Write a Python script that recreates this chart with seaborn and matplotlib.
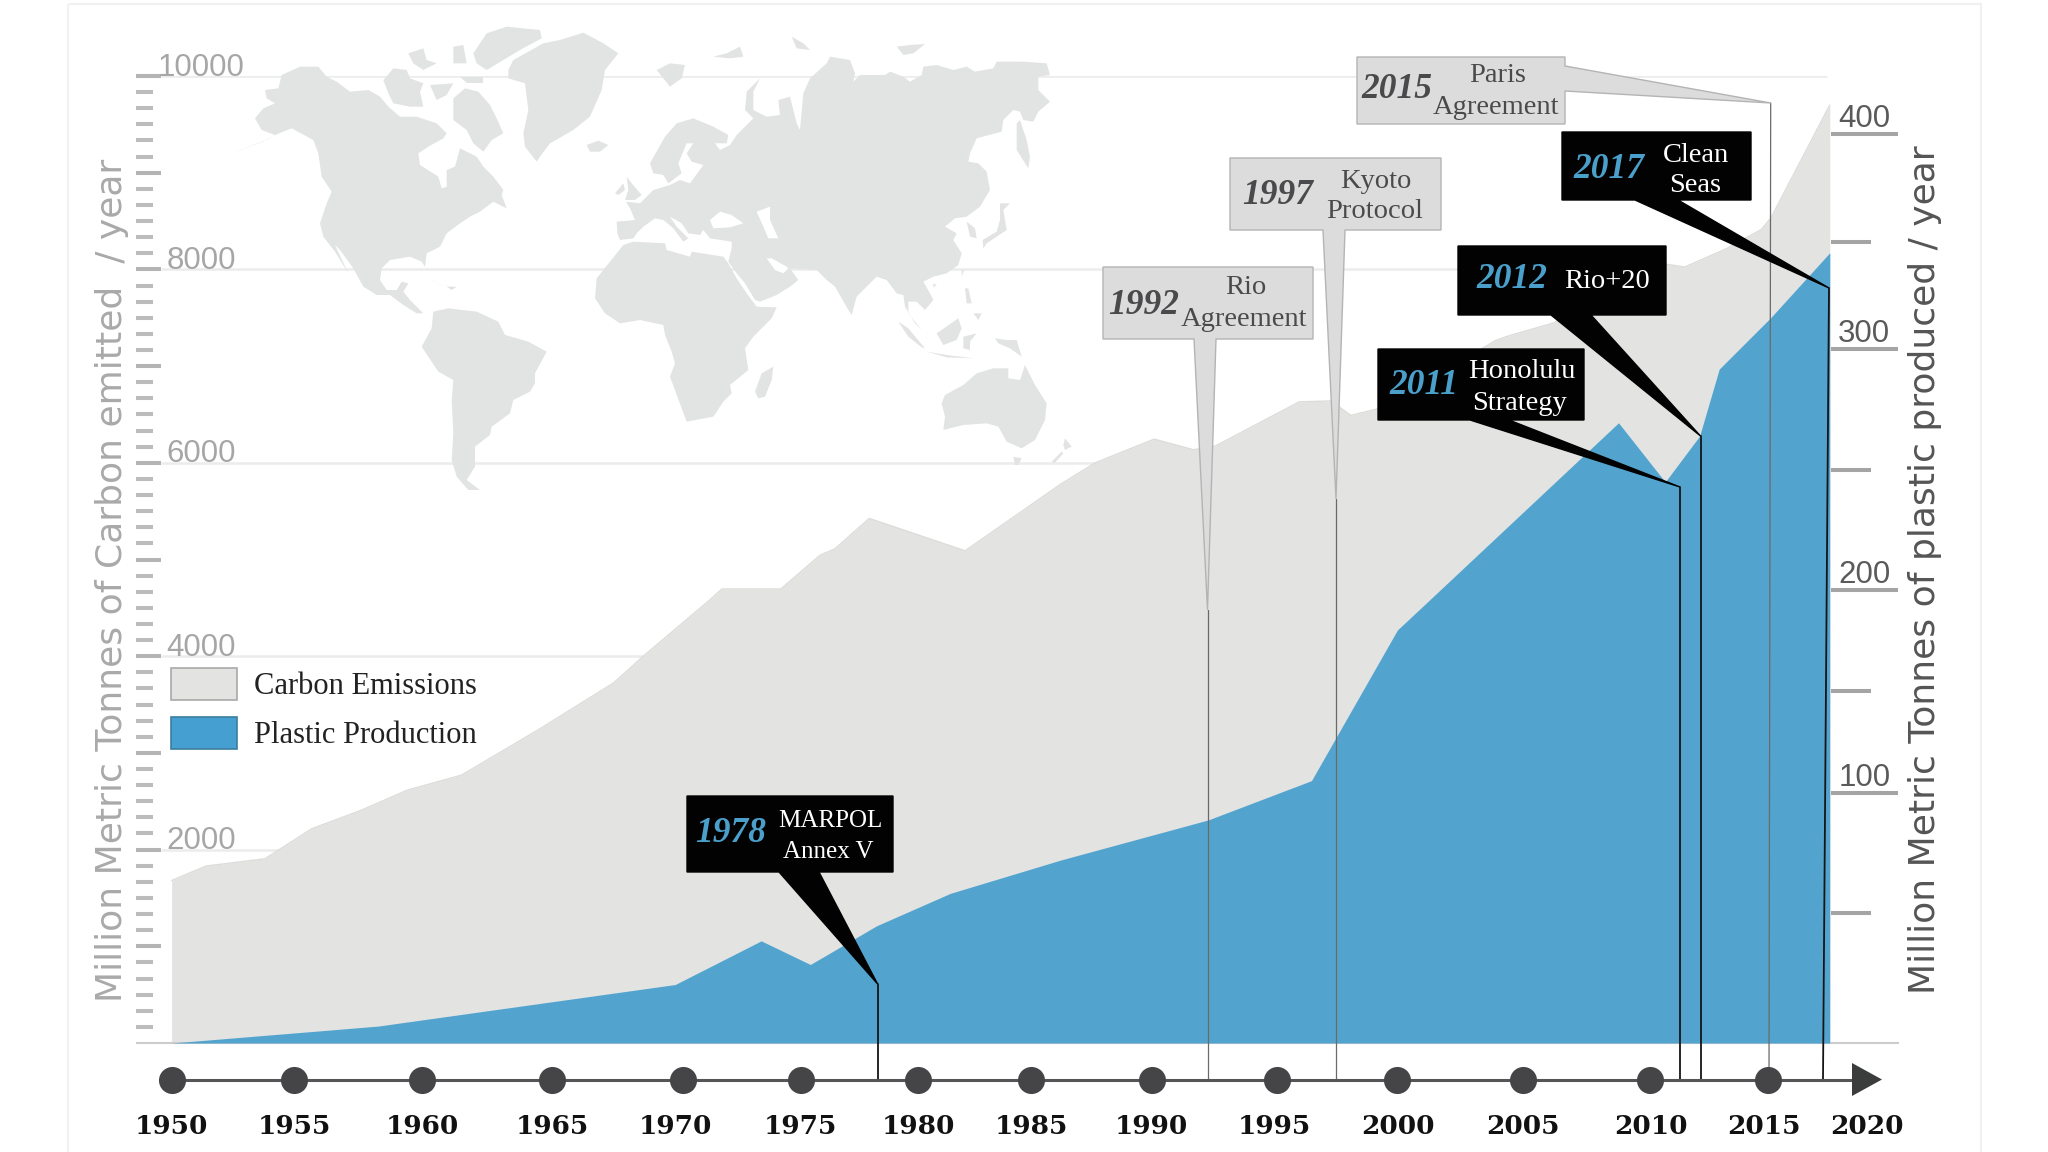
import matplotlib
matplotlib.use("Agg")
import matplotlib.pyplot as plt
from matplotlib.patches import Patch, Polygon, Rectangle
from matplotlib.ticker import NullFormatter
from matplotlib.transforms import Affine2D
import numpy as np
import seaborn as sns

W, H = 2048, 1152

# carbon emissions
carbon_years = [1950, 1951.4, 1953.8, 1955.7, 1957.7, 1959.6, 1961.8, 1964.9, 1968.0, 1969.2,
                1971.9, 1972.4, 1974.8, 1976.4, 1977.0, 1978.4, 1982.3, 1986.2, 1987.6, 1990.0,
                1991.6, 1992.5, 1995.9, 1997.2, 1998.0, 1999.3, 2003.9, 2004.4, 2006.3, 2008.1,
                2010.8, 2011.6, 2013.3, 2014.7, 2015.1, 2017.5]
carbon_values = [1680, 1830, 1905, 2215, 2405, 2615, 2770, 3235, 3725, 4000,
                 4580, 4695, 4695, 5045, 5110, 5425, 5090, 5780, 6000, 6245,
                 6135, 6175, 6630, 6640, 6490, 6570, 7265, 7310, 7450, 7750,
                 8055, 8025, 8215, 8410, 8530, 9700]

# plastic production
plastic_years = [1950, 1958.4, 1970.5, 1974.0, 1976.0, 1978.7, 1981.7, 1986.2, 1992.2, 1996.4,
                 1999.9, 2001.2, 2008.9, 2010.8, 2012.2, 2013.0, 2015.1, 2017.5]
plastic_values = [0, 6.5, 22.5, 39.3, 30.2, 45.1, 58.2, 72.1, 88.8, 106.1,
                  180.3, 195, 269.5, 245, 264, 291.7, 314.7, 345]

# the right axis is not evenly spaced: plastic value -> height on the carbon axis
plastic_knots = [0, 50, 100, 150, 200, 250, 300, 350, 400, 427]
carbon_knots = [0, 1344, 2585, 3635, 4685, 5926, 7177, 8283, 9400, 10000]

dot_positions = [1950, 1955, 1960.2, 1965.5, 1970.8, 1975.6, 1980.4, 1985, 1989.9, 1995,
                 1999.9, 2005, 2010.2, 2015]
label_positions = [1950, 1955, 1960.2, 1965.5, 1970.5, 1975.6, 1980.4, 1985, 1989.9, 1994.9,
                   1999.9, 2005, 2010.2, 2014.8, 2019]
label_years = ["1950", "1955", "1960", "1965", "1970", "1975", "1980", "1985", "1990", "1995",
               "2000", "2005", "2010", "2015", "2020"]

left_labels = [2000, 4000, 6000, 8000, 10000]
right_labels = [100, 200, 300, 400]

SERIF = "Liberation Serif"
NARROW = "Liberation Sans"
GREY_AREA = "#e3e3e2"
BLUE_AREA = "#52a4cf"
LAND = "#e2e3e3"

# background map, traced by hand. each group: crop origin in px, then outlines at 3x
land_groups = [
    ((220, 20), [
        # north america
        [(105, 295), (130, 265), (165, 250), (140, 235), (135, 210), (175, 205), (185, 165), (240, 140),
         (295, 140), (320, 170), (350, 185), (390, 215), (445, 210), (480, 230), (505, 260), (540, 290),
         (590, 290), (620, 300), (650, 310), (680, 340), (670, 355), (625, 380), (595, 400), (600, 435),
         (655, 470), (665, 505), (680, 500), (680, 450), (705, 440), (720, 385), (770, 410), (790, 440),
         (820, 470), (850, 510), (845, 525), (860, 565), (820, 545), (780, 575), (750, 590), (720, 610),
         (680, 640), (660, 680), (620, 700), (615, 740), (620, 748), (605, 725), (570, 710), (510, 720),
         (485, 745), (480, 780), (500, 810), (530, 810), (545, 785), (565, 790), (550, 815), (570, 840),
         (610, 880), (590, 880), (550, 855), (510, 825), (470, 825), (430, 800), (400, 745), (360, 690),
         (345, 675), (385, 760), (345, 695), (310, 650), (300, 610), (320, 550), (335, 515), (305, 470),
         (295, 400), (280, 360), (215, 325), (165, 345), (125, 330)],
        [(210, 318), (140, 360), (20, 405), (130, 365), (190, 330)],
        # arctic islands
        [(490, 180), (520, 145), (560, 150), (570, 175), (610, 190), (600, 215), (610, 260), (570, 260),
         (520, 250), (505, 220)],
        [(565, 100), (610, 85), (620, 120), (650, 130), (610, 150), (580, 130)],
        [(630, 195), (700, 190), (680, 225), (650, 240)],
        [(700, 235), (735, 205), (775, 215), (810, 255), (830, 295), (850, 340), (815, 360), (790, 395),
         (760, 370), (740, 330), (700, 300)],
        [(760, 100), (800, 40), (860, 20), (960, 30), (965, 55), (900, 90), (850, 120), (800, 150), (770, 130)],
        [(700, 80), (730, 75), (740, 130), (700, 130)],
        [(720, 170), (790, 170), (790, 190), (740, 190)],
        # greenland
        [(865, 150), (880, 120), (970, 70), (1020, 60), (1090, 38), (1150, 70), (1195, 100), (1155, 150),
         (1145, 210), (1110, 290), (1060, 330), (990, 370), (960, 410), (950, 425), (915, 380), (910, 340),
         (925, 270), (915, 190), (865, 175)],
    ]),
    ((540, 20), [
        [(140, 375), (175, 362), (205, 375), (180, 395), (150, 395)],
        [(350, 150), (390, 130), (435, 135), (425, 175), (390, 200), (370, 175)],
        [(520, 110), (560, 100), (600, 80), (610, 110), (570, 115)],
        [(755, 50), (790, 70), (810, 90), (770, 85)],
        [(260, 470), (275, 490), (305, 525), (285, 540), (255, 540), (265, 510)],
        [(225, 520), (250, 490), (255, 510), (235, 525)],
        # eurasia
        [(232, 640), (230, 605), (285, 600), (270, 565), (258, 545), (300, 550), (340, 510), (390, 495),
         (420, 480), (450, 490), (490, 435), (455, 425), (440, 400), (460, 370), (440, 370), (415, 430),
         (425, 460), (385, 490), (370, 465), (340, 460), (330, 430), (375, 350), (410, 310), (460, 295),
         (520, 320), (565, 345), (560, 370), (525, 370), (540, 390), (570, 375), (590, 345), (640, 295),
         (615, 270), (620, 215), (660, 175), (640, 215), (640, 270), (680, 290), (720, 285), (715, 240),
         (750, 230), (770, 310), (780, 330), (790, 220), (810, 175), (860, 130), (870, 110), (930, 120),
         (945, 160), (940, 185), (960, 165), (1035, 165), (1050, 155), (1090, 170), (1110, 185), (1145, 165),
         (1150, 140), (1190, 135), (1240, 150), (1280, 140), (1305, 155), (1360, 145), (1370, 125), (1450, 125),
         (1520, 130), (1530, 165), (1495, 170), (1495, 210), (1530, 245), (1495, 275), (1480, 305), (1450, 300),
         (1440, 275), (1420, 270), (1390, 300), (1385, 335), (1310, 355), (1290, 400), (1285, 425), (1315, 430),
         (1340, 455), (1350, 510), (1320, 560), (1280, 590), (1245, 595), (1215, 620), (1250, 640), (1240, 660),
         (1265, 700), (1255, 735), (1220, 760), (1180, 770), (1150, 785), (1170, 820), (1180, 840), (1155, 870),
         (1130, 845), (1105, 845), (1105, 880), (1145, 930), (1125, 910), (1095, 860), (1090, 825), (1070, 820),
         (1040, 780), (1010, 770), (950, 830), (935, 885), (925, 870), (885, 800), (860, 780), (830, 750),
         (750, 745), (775, 780), (750, 800), (710, 825), (660, 845), (645, 840), (615, 790), (590, 760),
         (565, 725), (575, 685), (575, 665), (510, 655), (490, 630), (480, 645), (445, 640), (425, 610),
         (390, 590), (410, 620), (445, 655), (430, 665), (400, 625), (370, 600), (345, 595), (310, 620),
         (290, 640), (280, 655), (240, 660)],
    ]),
    ((790, 40), [
        [(680, 250), (690, 240), (710, 300), (720, 350), (715, 385), (680, 330)],
        [(630, 490), (660, 490), (640, 510), (650, 570), (620, 590), (590, 610), (580, 625), (578, 600),
         (620, 575), (630, 540)],
        [(530, 545), (555, 565), (560, 595), (540, 590)],
        [(515, 690), (522, 690), (515, 710)],
        [(430, 730), (440, 735), (430, 742)],
        [(320, 20), (360, 15), (405, 12), (370, 40), (340, 45)],
    ]),
    ((590, 220), [
        # africa, madagascar
        [(15, 235), (20, 175), (60, 125), (100, 75), (130, 65), (225, 70), (230, 90), (300, 110), (305, 95),
         (400, 110), (415, 130), (440, 175), (470, 220), (500, 260), (560, 262), (545, 295), (490, 350),
         (465, 385), (475, 450), (420, 495), (425, 520), (400, 545), (370, 590), (290, 605), (262, 530),
         (240, 470), (255, 430), (245, 395), (225, 345), (220, 315), (150, 300), (90, 310), (45, 280)],
        [(495, 515), (515, 460), (550, 440), (545, 480), (525, 530), (505, 535)],
    ]),
    ((370, 260), [
        # south america, caribbean
        [(155, 260), (185, 205), (190, 155), (235, 145), (320, 155), (385, 185), (405, 225), (475, 245),
         (530, 275), (495, 340), (495, 370), (480, 395), (430, 420), (420, 460), (365, 500), (360, 525),
         (315, 560), (315, 620), (290, 660), (330, 690), (295, 690), (260, 650), (245, 600), (250, 520),
         (245, 420), (250, 360), (205, 335), (175, 290)],
        [(160, 50), (200, 70), (250, 85), (205, 72)],
        [(230, 80), (260, 80), (245, 90)],
    ]),
    ((880, 270), [
        # south-east asia, australia, new zealand
        [(55, 155), (85, 175), (135, 235), (125, 232), (85, 200)],
        [(170, 190), (235, 145), (245, 175), (230, 210), (190, 225)],
        [(140, 245), (200, 255), (280, 265), (200, 262)],
        [(250, 200), (290, 190), (270, 215), (270, 240), (250, 235)],
        [(345, 205), (380, 210), (410, 210), (425, 260), (390, 235), (355, 220)],
        [(255, 55), (265, 55), (275, 100), (260, 100)],
        [(280, 130), (305, 130), (295, 150)],
        [(185, 400), (195, 375), (250, 345), (290, 310), (340, 295), (385, 295), (385, 325), (420, 330),
         (435, 285), (465, 345), (500, 400), (495, 450), (465, 510), (425, 535), (380, 515), (355, 470),
         (320, 460), (250, 465), (190, 480), (195, 440)],
        [(400, 560), (425, 565), (415, 585), (405, 585)],
        [(555, 505), (575, 530), (555, 540), (550, 525)],
        [(545, 545), (550, 550), (525, 578), (515, 575)],
    ]),
]
# inland seas in the eurasia crop, painted over the land
water = [
    [(510, 600), (540, 575), (575, 585), (610, 610), (570, 622), (520, 625)],
    [(650, 575), (690, 560), (690, 600), (715, 655), (685, 655), (670, 620)],
    [(745, 745), (730, 760), (705, 750), (680, 715), (695, 715), (740, 740)],
]

sns.set_theme(style="white")
fig = plt.figure(figsize=(W / 100, H / 100), dpi=100, facecolor="white")
px = Affine2D().scale(1 / W, -1 / H).translate(0, 1) + fig.transFigure

fig.add_artist(Rectangle((68, 4), 1913, 1150, transform=px, fill=False, ec="#f1f1f1", lw=1.5))

# main axes: left edge 136px, right 1831px, baseline 1043px, top 76px
ax = fig.add_axes([136 / W, 1 - 1043 / H, (1831 - 136) / W, (1043 - 76) / H])
ax.patch.set_visible(False)
ax.set_xlim(1948.55, 2017.55)
ax.set_ylim(0, 10000)
sns.despine(ax=ax, left=True, bottom=True, right=True, top=True)

ax.hlines(left_labels, 1949.57, 2017.4, color="#ececec", lw=1.8, zorder=0.4)
ax.hlines(0, 1948.55, 2020.3, color="#cccccc", lw=1.5, zorder=3, clip_on=False)

for (ox, oy), shapes in land_groups:
    crop = Affine2D().scale(1 / 3).translate(ox, oy) + px
    for shape in shapes:
        ax.add_patch(Polygon(shape, closed=True, transform=crop, fc=LAND, ec="none", zorder=0.5, clip_on=False))
crop = Affine2D().scale(1 / 3).translate(540, 20) + px
for shape in water:
    ax.add_patch(Polygon(shape, closed=True, transform=crop, fc="white", ec="none", zorder=0.6, clip_on=False))

ax.fill_between(carbon_years, carbon_values, 0, color=GREY_AREA, lw=0, zorder=1)
sns.lineplot(x=carbon_years, y=carbon_values, color="#dcdcdb", linewidth=1, ax=ax, zorder=1.1, legend=False)

ax.set_xticks([])
ax.set_yticks(np.arange(1000, 10001, 1000))
ax.set_yticks(np.arange(1, 60) * 10000 / 60, minor=True)
ax.set_yticklabels([])
ax.set_xlabel("")
ax.set_ylabel("")
ax.tick_params(axis="y", which="major", direction="in", left=True, length=18, width=2.9, color="#b4b4b4")
ax.tick_params(axis="y", which="minor", direction="in", left=True, length=12, width=2.9, color="#bcbcbc")
for v in left_labels:
    ax.annotate(str(v), xy=(0, v), xycoords=ax.get_yaxis_transform(), xytext=(47, 6), textcoords="offset points",
                ha="center", va="center", fontsize=22.5, color="#a6a6a6", family=NARROW)


# plastic sits on its own, uneven scale
def to_carbon(p):
    return np.interp(p, plastic_knots, carbon_knots)


def to_plastic(c):
    return np.interp(c, carbon_knots, plastic_knots)


ax2 = ax.twinx()
ax2.patch.set_visible(False)
ax2.set_yscale("function", functions=(to_carbon, to_plastic))
ax2.set_ylim(0, 427)
ax2.fill_between(plastic_years, plastic_values, 0, color=BLUE_AREA, lw=0, zorder=2)
sns.despine(ax=ax2, left=True, bottom=True, right=True, top=True)
ax2.set_yticks(right_labels)
ax2.set_yticks([50, 150, 250, 350], minor=True)
ax2.set_yticklabels([])
ax2.yaxis.set_minor_formatter(NullFormatter())
ax2.tick_params(axis="y", which="major", direction="out", right=True, length=48, width=2.9, color="#a4a4a4", pad=0)
ax2.tick_params(axis="y", which="minor", direction="out", right=True, length=29, width=2.9, color="#a4a4a4", pad=0)
ax2.set_ylabel("")
for v in right_labels:
    ax2.annotate(str(v), xy=(1, v), xycoords=ax2.get_yaxis_transform(), xytext=(24, 11), textcoords="offset points",
                 ha="center", va="center", fontsize=22.5, color="#5a5a5a", family=NARROW)

fig.text(112, 580, "Million Metric Tonnes of Carbon emitted  / year", transform=px, rotation=90,
         ha="center", va="center", fontsize=26, color="#a9a9a9", family="DejaVu Sans")
fig.text(1925, 570, "Million Metric Tonnes of plastic produced / year", transform=px, rotation=90,
         ha="center", va="center", fontsize=26, color="#555555", family="DejaVu Sans")

# timeline strip below the chart
ax_t = fig.add_axes([136 / W, 1 - 1100 / H, (1890 - 136) / W, 40 / H])
ax_t.patch.set_visible(False)
ax_t.set_xlim(1948.55, 2019.95)
ax_t.set_ylim(-1, 1)
sns.despine(ax=ax_t, left=True, bottom=True, right=True, top=True)
y_dots = np.zeros(len(dot_positions))
ax_t.hlines(0, dot_positions[0], 2018.5, color="#555557", lw=2.2, zorder=1)
sns.scatterplot(x=dot_positions, y=y_dots, s=380, color="#454547", linewidth=0, ax=ax_t, zorder=3, legend=False)
ax_t.set_yticks([])
ax_t.set_xticks(label_positions, label_years)
ax_t.tick_params(axis="x", length=0, pad=10)
for lab in ax_t.get_xticklabels():
    lab.set_family("DejaVu Serif")
    lab.set_weight("bold")
    lab.set_fontsize(19)
    lab.set_color("#111111")
fig.add_artist(Polygon([(1852, 1063), (1882, 1079.5), (1852, 1096)], transform=px, fc="#3b3d3d", ec="none"))

# callouts: (year, first line, second line, kind, outline, year xy, line1 xy, line2 xy, tip, stem bottom x)
callouts = [
    ("1978", "MARPOL", "Annex V", "dark",
     [(687, 796), (893, 796), (893, 872), (819, 872), (877.6, 984), (779, 872), (687, 872)],
     (731, 833), (830, 821), (828, 852), (877.6, 984), 877.6),
    ("1992", "Rio", "Agreement", "light",
     [(1103, 267), (1313, 267), (1313, 339), (1216, 339), (1207.5, 610), (1194, 339), (1103, 339)],
     (1144, 306), (1246, 287), (1244, 320), (1207.5, 610), 1207.5),
    ("1997", "Kyoto", "Protocol", "light",
     [(1230, 158), (1441, 158), (1441, 230), (1345, 230), (1336, 499), (1323, 230), (1230, 230)],
     (1278, 196), (1376, 181), (1375, 212), (1336, 499), 1336),
    ("2011", "Honolulu", "Strategy", "dark",
     [(1378, 349), (1584, 349), (1584, 420), (1509, 420), (1680, 487), (1470, 420), (1378, 420)],
     (1424, 386), (1522, 371), (1520, 403), (1680, 487), 1680),
    ("2012", "Rio+20", "", "dark",
     [(1458, 246), (1666, 246), (1666, 315), (1591, 315), (1700.5, 436), (1551, 315), (1458, 315)],
     (1512, 279), (1607, 281), None, (1700.5, 436), 1700.5),
    ("2015", "Paris", "Agreement", "light",
     [(1357, 57), (1565, 57), (1565, 66), (1770.7, 103), (1565, 91), (1565, 124), (1357, 124)],
     (1397, 90), (1498, 75), (1496, 107), (1770.7, 103), 1769),
    ("2017", "Clean", "Seas", "dark",
     [(1562, 132), (1751, 132), (1751, 200), (1678, 200), (1829, 288), (1635, 200), (1562, 200)],
     (1609, 170), (1696, 155), (1695, 186), (1829, 288), 1823),
]
styles = {
    "light": dict(fc="#dcdcdc", ec="#b4b4b4", stem="#6a6a6a", stem_lw=0.9, year="#4a4a4c", text="#4a4a4c"),
    "dark": dict(fc="#020202", ec="#020202", stem="#151515", stem_lw=1.3, year="#4b9fcb", text="#ffffff"),
}
for year, line1, line2, kind, outline, yr_xy, l1_xy, l2_xy, tip, stem_x in callouts:
    st = styles[kind]
    ax2.plot([tip[0], stem_x], [tip[1], 1079], transform=px, color=st["stem"], lw=st["stem_lw"], zorder=4, clip_on=False)
    ax2.add_patch(Polygon(outline, closed=True, transform=px, fc=st["fc"], ec=st["ec"], lw=1, zorder=5, clip_on=False))
    ax2.text(*yr_xy, year, transform=px, ha="center", va="center", fontsize=25.5, family=SERIF,
             weight="bold", style="italic", color=st["year"], zorder=6)
    size = 18 if line1.isupper() else 20.5
    ax2.text(*l1_xy, line1, transform=px, ha="center", va="center", fontsize=size, family=SERIF,
             color=st["text"], zorder=6)
    if l2_xy:
        ax2.text(*l2_xy, line2, transform=px, ha="center", va="center", fontsize=size, family=SERIF,
                 color=st["text"], zorder=6)

handles = [Patch(fc=GREY_AREA, ec="#a9a9a9", lw=1.2, label="Carbon Emissions"),
           Patch(fc="#45a0d1", ec="#3a7f9f", lw=1.2, label="Plastic Production")]
leg = ax2.legend(handles=handles, loc="upper left", bbox_to_anchor=(171, 668), bbox_transform=px,
                 frameon=False, borderpad=0, borderaxespad=0, handlelength=2.15, handleheight=1.25,
                 labelspacing=0.5, handletextpad=0.55, prop={"family": SERIF, "size": 22})
for t in leg.get_texts():
    t.set_color("#222222")

fig.savefig("out.png", dpi=100, facecolor="white")
plt.close(fig)
